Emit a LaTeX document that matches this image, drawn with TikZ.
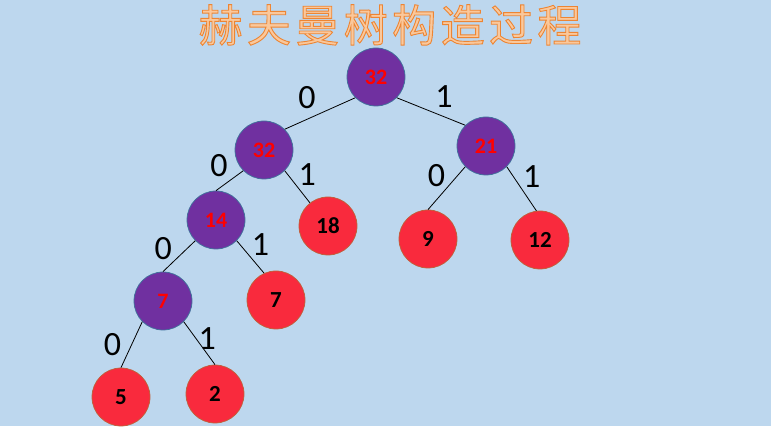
\documentclass[tikz,border=0pt]{standalone}
\usepackage{fontspec}
\setmainfont{Carlito}
\newfontfamily\titlefont[LetterSpace=10]{Noto Sans CJK SC}
\usetikzlibrary{positioning}
\definecolor{bgblue}{HTML}{BDD7EE}
\definecolor{titlefill}{HTML}{FAC89C}
\definecolor{innerfill}{HTML}{7030A0}
\definecolor{innerline}{HTML}{41719C}
\definecolor{leaffill}{HTML}{F92A3D}
\definecolor{leafline}{HTML}{C0603A}
% outlined title text: fill and stroke in one go
\newcommand{\outlinetext}[1]{\special{pdf:code 0.93 0.52 0.2 RG 2 Tr 0.9 w}#1\special{pdf:code 0 Tr}}

\begin{document}
\begin{tikzpicture}[x=1pt, y=1pt, on grid,
	inner/.style={circle, draw=innerline, line width=0.75pt, fill=innerfill, text=red, minimum size=58pt, inner sep=0pt, font=\bfseries\fontsize{22}{22}\selectfont},
	leaf/.style={circle, draw=leafline, line width=0.75pt, fill=leaffill, text=black, minimum size=58pt, inner sep=0pt, font=\bfseries\fontsize{23}{23}\selectfont},
	bit/.style={font=\fontsize{34}{34}\selectfont, inner sep=4pt},
	link/.style={draw=black, line width=0.8pt}]
		\useasboundingbox (0,0) rectangle (771,-427);
		\fill[white] (0,0) rectangle (771,-427);
		\fill[bgblue] (0,0) rectangle (771,-425.5);

		\node[text=titlefill, font=\titlefont\fontsize{44}{44}\selectfont] (title) at (390,-25) {\outlinetext{赫夫曼树构造过程}};

		\node[inner] (root) at (376,-77) {32};
		\node[inner, below left=73pt and 112pt of root] (a32) {32};
		\node[inner, below right=69pt and 110pt of root] (b21) {21};
		\node[inner, below left=70pt and 48pt of a32] (c14) {14};
		\node[leaf, below right=76pt and 64pt of a32] (r18) {18};
		\node[leaf, below left=93pt and 58pt of b21] (r9) {9};
		\node[leaf, below right=94pt and 54pt of b21] (r12) {12};
		\node[inner, below left=81pt and 53pt of c14] (d7) {7};
		\node[leaf, below right=80pt and 60pt of c14] (r7) {7};
		\node[leaf, below left=96pt and 42pt of d7] (r5) {5};
		\node[leaf, below right=93pt and 52pt of d7] (r2) {2};

		\path[link] (root.south west) -- node[bit, above left] (e1) {0} (a32.north east);
		\path[link] (root.south east) -- node[bit, above right] (e2) {1} (b21.north west);
		\path[link] (a32.south west) -- node[bit, above left, pos=0.45, inner sep=3pt] (e3) {0} (c14.north);
		\path[link] (a32.south east) -- node[bit, above right, inner sep=1pt] (e4) {1} (r18.128);
		\path[link] (b21.south west) -- node[bit, above left, inner sep=1pt] (e5) {0} (r9.north);
		\path[link] (b21.south east) -- node[bit, above right, inner sep=1pt] (e6) {1} (r12.97);
		\path[link] (c14.south west) -- node[bit, left, pos=0.25, inner sep=15pt] (e7) {0} (d7.north);
		\path[link] (c14.south east) -- node[bit, above right, inner sep=1pt] (e8) {1} (r7.114);
		\path[link] (d7.south west) -- node[bit, left, inner sep=10pt] (e9) {0} (r5.north);
		\path[link] (d7.south east) -- node[bit, right, pos=0.4, inner sep=2pt] (e10) {1} (r2.north);
	\end{tikzpicture}
\end{document}
